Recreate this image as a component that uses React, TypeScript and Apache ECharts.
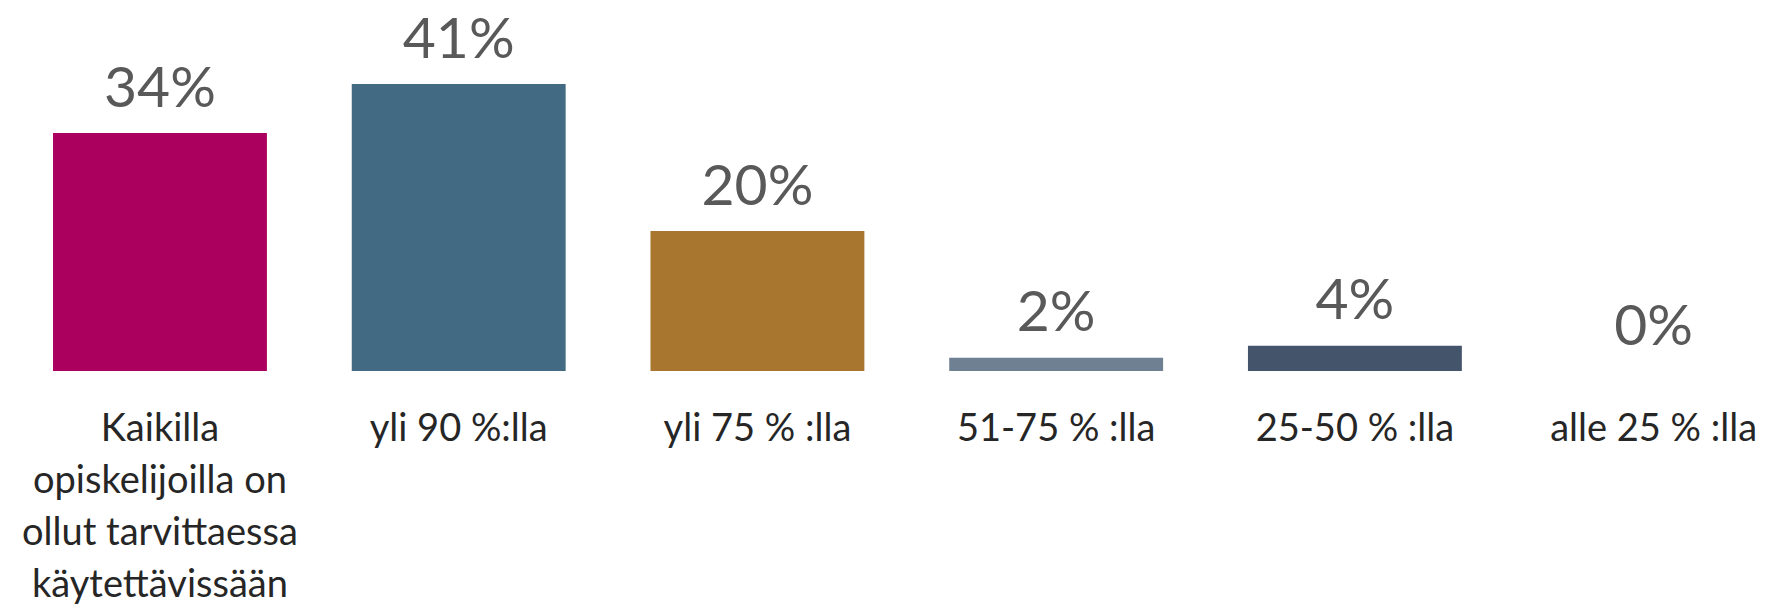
import React, { useEffect, useRef } from "react";
import * as echarts from "echarts";

const categories = [
  "Kaikilla\nopiskelijoilla on\nollut tarvittaessa\nkäytettävissään",
  "yli 90 %:lla",
  "yli 75 % :lla",
  "51-75 % :lla",
  "25-50 % :lla",
  "alle 25 % :lla",
];
const values = [34, 41, 20, 1.9, 3.6, 0];
const barColors = ["#ab005e", "#436a83", "#a97630", "#6f8092", "#44546a", "#44546a"];

export default function App() {
  const ref = useRef<HTMLDivElement>(null);
  useEffect(() => {
    if (!ref.current) return;
    const chart = echarts.init(ref.current, undefined, { renderer: "svg" });
    chart.setOption({
      animation: false,
      backgroundColor: "#ffffff",
      grid: {
        left: 10.6,
        right: -28,
        top: 21,
        bottom: 234,
        containLabel: false,
        outerBoundsMode: "none",
      },
      xAxis: {
        type: "category",
        data: categories,
        axisLine: { show: false },
        axisTick: { show: false },
        axisLabel: {
          interval: 0,
          margin: 29,
          color: "#262626",
          fontFamily: "Lato",
          fontSize: 38,
          lineHeight: 52,
        },
      },
      yAxis: {
        type: "value",
        min: 0,
        max: 50,
        show: false,
        splitLine: { show: false },
      },
      series: [
        {
          type: "bar",
          data: values.map((v, i) => ({ value: v, itemStyle: { color: barColors[i] } })),
          barCategoryGap: "28.4%",
          label: {
            show: true,
            position: "top",
            distance: 20,
            color: "#595959",
            fontFamily: "Lato",
            fontSize: 57,
            formatter: (p: any) => Math.round(p.value) + "%",
          },
        },
      ],
    });
    return () => chart.dispose();
  }, []);
  return (
    <div
      ref={ref}
      style={{ position: "absolute", left: 0, top: 0, width: 1775, height: 605 }}
    />
  );
}
